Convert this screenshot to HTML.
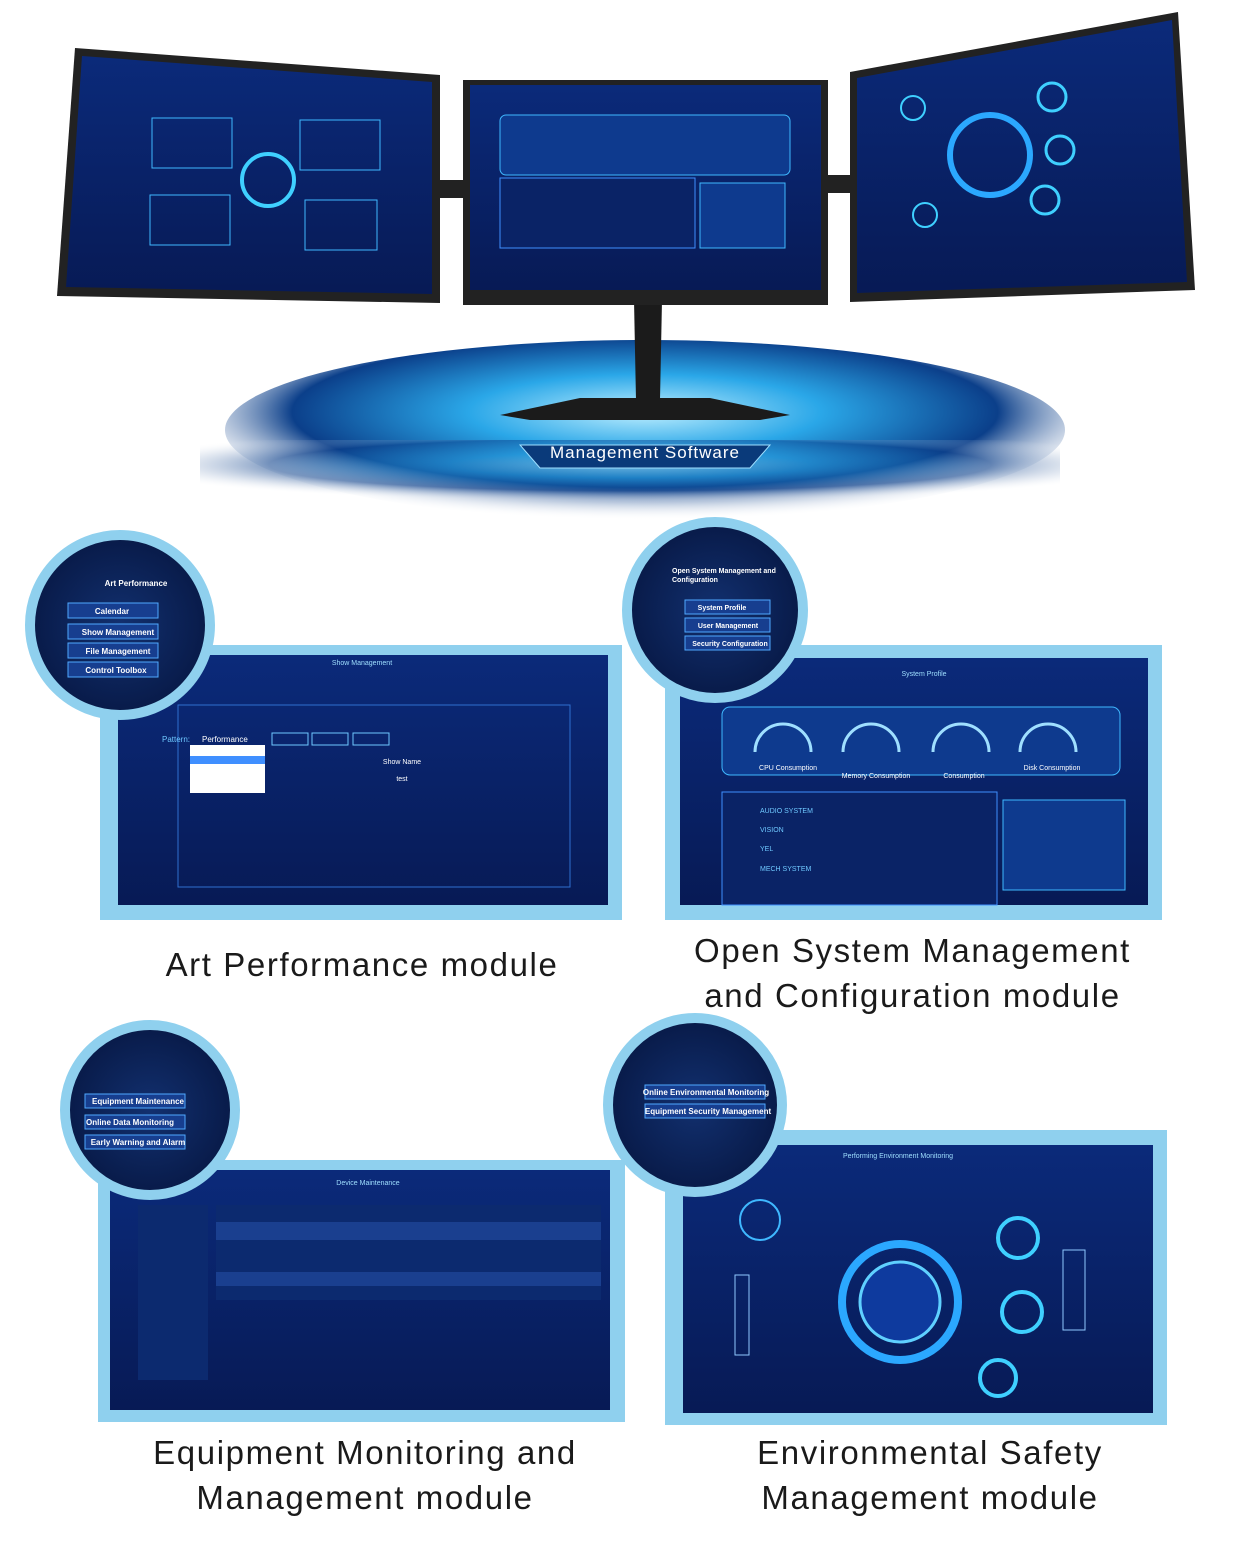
<!DOCTYPE html>
<html><head><meta charset="utf-8"><style>
html,body{margin:0;padding:0;background:#fff}
body{width:1244px;height:1541px;position:relative;overflow:hidden;font-family:"Liberation Sans",sans-serif}
.cap{position:absolute;color:#1a1a1a;font-size:33px;letter-spacing:1.6px;text-align:center;line-height:45px}
</style></head><body>
<svg width="1244" height="1541" style="position:absolute;left:0;top:0">
<defs>
<radialGradient id="glow" cx="50%" cy="40%" r="60%">
<stop offset="0" stop-color="#bfefff"/><stop offset="0.35" stop-color="#2aa7e8"/><stop offset="0.7" stop-color="#0b3f8a"/><stop offset="1" stop-color="#ffffff" stop-opacity="0"/></radialGradient>
<linearGradient id="scr" x1="0" y1="0" x2="0" y2="1"><stop offset="0" stop-color="#0b2a7a"/><stop offset="1" stop-color="#071a55"/></linearGradient>
<radialGradient id="circ" cx="50%" cy="50%" r="50%"><stop offset="0" stop-color="#12306f"/><stop offset="1" stop-color="#081a48"/></radialGradient>
</defs>
<ellipse cx="645" cy="430" rx="420" ry="90" fill="url(#glow)"/>
<rect x="200" y="440" width="860" height="62" fill="url(#glow)" opacity="0.5"/>
<polygon points="520,445 770,445 750,468 540,468" fill="#0a3a7a" stroke="#9fdfff"/>
<polygon points="634,300 662,300 660,400 636,400" fill="#1b1b1b"/>
<polygon points="500,415 580,398 710,398 790,415 760,420 530,420" fill="#1b1b1b"/>
<polygon points="75,48 440,75 440,303 57,296" fill="#222"/>
<polygon points="82,56 432,82 432,294 66,287" fill="url(#scr)"/>
<rect x="440" y="180" width="30" height="18" fill="#222"/>
<rect x="826" y="175" width="26" height="18" fill="#222"/>
<rect x="463" y="80" width="365" height="225" fill="#222"/>
<rect x="470" y="85" width="351" height="205" fill="url(#scr)"/>
<polygon points="850,72 1178,12 1195,290 850,302" fill="#222"/>
<polygon points="857,78 1172,20 1187,282 857,293" fill="url(#scr)"/>
<circle cx="268" cy="180" r="26" fill="none" stroke="#3fd0ff" stroke-width="4"/>
<rect x="152" y="118" width="80" height="50" fill="none" stroke="#3fb8ff"/>
<rect x="300" y="120" width="80" height="50" fill="none" stroke="#3fb8ff"/>
<rect x="150" y="195" width="80" height="50" fill="none" stroke="#3fb8ff"/>
<rect x="305" y="200" width="72" height="50" fill="none" stroke="#3fb8ff"/>
<rect x="500" y="115" width="290" height="60" rx="6" fill="#0e3a8e" stroke="#3fb8ff"/>
<rect x="500" y="178" width="195" height="70" fill="#0a2366" stroke="#3f8fff"/>
<rect x="700" y="183" width="85" height="65" fill="#0e3a8e" stroke="#3fb8ff"/>
<circle cx="990" cy="155" r="40" fill="none" stroke="#2ba8ff" stroke-width="6"/>
<circle cx="1052" cy="97" r="14" fill="none" stroke="#3fd0ff" stroke-width="3"/>
<circle cx="1060" cy="150" r="14" fill="none" stroke="#3fd0ff" stroke-width="3"/>
<circle cx="1045" cy="200" r="14" fill="none" stroke="#3fd0ff" stroke-width="3"/>
<circle cx="913" cy="108" r="12" fill="none" stroke="#3fd0ff" stroke-width="2"/>
<circle cx="925" cy="215" r="12" fill="none" stroke="#3fd0ff" stroke-width="2"/>
<rect x="100" y="645" width="522" height="275" fill="#8fd0ee"/>
<rect x="118" y="655" width="490" height="250" fill="url(#scr)"/>
<rect x="178" y="705" width="392" height="182" fill="none" stroke="#2f6fcf"/>
<rect x="190" y="745" width="75" height="48" fill="#fff"/>
<rect x="190" y="756" width="75" height="8" fill="#3f8fff"/>
<rect x="272" y="733" width="36" height="12" fill="none" stroke="#6fc8ff"/>
<rect x="312" y="733" width="36" height="12" fill="none" stroke="#6fc8ff"/>
<rect x="353" y="733" width="36" height="12" fill="none" stroke="#6fc8ff"/>
<circle cx="120" cy="625" r="90" fill="url(#circ)" stroke="#8fd0ee" stroke-width="10"/>
<rect x="68" y="603" width="90" height="15" fill="#173e8f" stroke="#4fa8ff"/>
<rect x="68" y="624" width="90" height="15" fill="#173e8f" stroke="#4fa8ff"/>
<rect x="68" y="643" width="90" height="15" fill="#173e8f" stroke="#4fa8ff"/>
<rect x="68" y="662" width="90" height="15" fill="#173e8f" stroke="#4fa8ff"/>
<text x="112" y="614" fill="#fff" font-size="8" text-anchor="middle" font-weight="bold">Calendar</text>
<text x="118" y="635" fill="#fff" font-size="8" text-anchor="middle" font-weight="bold">Show Management</text>
<text x="118" y="654" fill="#fff" font-size="8" text-anchor="middle" font-weight="bold">File Management</text>
<text x="116" y="673" fill="#fff" font-size="8" text-anchor="middle" font-weight="bold">Control Toolbox</text>
<text x="136" y="586" fill="#fff" font-size="8" text-anchor="middle" font-weight="bold">Art Performance</text>
<text x="362" y="665" fill="#9fdfff" font-size="7" text-anchor="middle">Show Management</text>
<text x="162" y="742" fill="#6fc8ff" font-size="8">Pattern:</text>
<text x="202" y="742" fill="#fff" font-size="8">Performance</text>
<text x="402" y="764" fill="#fff" font-size="7" text-anchor="middle">Show Name</text>
<text x="402" y="781" fill="#fff" font-size="7" text-anchor="middle">test</text>
<rect x="665" y="645" width="497" height="275" fill="#8fd0ee"/>
<rect x="680" y="658" width="468" height="247" fill="url(#scr)"/>
<rect x="722" y="707" width="398" height="68" rx="8" fill="#0e3a8e" stroke="#3fb8ff"/>
<rect x="722" y="792" width="275" height="113" fill="#0a2366" stroke="#3f8fff"/>
<rect x="1003" y="800" width="122" height="90" fill="#0e3a8e" stroke="#3fb8ff"/>
<path d="M755 752 a28 28 0 0 1 56 0 M843 752 a28 28 0 0 1 56 0 M933 752 a28 28 0 0 1 56 0 M1020 752 a28 28 0 0 1 56 0" fill="none" stroke="#9fdfff" stroke-width="3"/>
<text x="788" y="770" fill="#fff" font-size="7" text-anchor="middle">CPU Consumption</text>
<text x="876" y="778" fill="#fff" font-size="7" text-anchor="middle">Memory Consumption</text>
<text x="964" y="778" fill="#fff" font-size="7" text-anchor="middle">Consumption</text>
<text x="1052" y="770" fill="#fff" font-size="7" text-anchor="middle">Disk Consumption</text>
<text x="760" y="813" fill="#6fc8ff" font-size="7">AUDIO SYSTEM</text>
<text x="760" y="832" fill="#6fc8ff" font-size="7">VISION</text>
<text x="760" y="851" fill="#6fc8ff" font-size="7">YEL</text>
<text x="760" y="871" fill="#6fc8ff" font-size="7">MECH SYSTEM</text>
<text x="924" y="676" fill="#9fdfff" font-size="7" text-anchor="middle">System Profile</text>
<circle cx="715" cy="610" r="88" fill="url(#circ)" stroke="#8fd0ee" stroke-width="10"/>
<rect x="685" y="600" width="85" height="14" fill="#173e8f" stroke="#4fa8ff"/>
<rect x="685" y="618" width="85" height="14" fill="#173e8f" stroke="#4fa8ff"/>
<rect x="685" y="636" width="85" height="14" fill="#173e8f" stroke="#4fa8ff"/>
<text x="722" y="610" fill="#fff" font-size="7" text-anchor="middle" font-weight="bold">System Profile</text>
<text x="728" y="628" fill="#fff" font-size="7" text-anchor="middle" font-weight="bold">User Management</text>
<text x="730" y="646" fill="#fff" font-size="7" text-anchor="middle" font-weight="bold">Security Configuration</text>
<text x="672" y="573" fill="#fff" font-size="7" font-weight="bold">Open System Management and</text>
<text x="672" y="582" fill="#fff" font-size="7" font-weight="bold">Configuration</text>
<rect x="98" y="1160" width="527" height="262" fill="#8fd0ee"/>
<rect x="110" y="1170" width="500" height="240" fill="url(#scr)"/>
<rect x="138" y="1205" width="70" height="175" fill="#0c2a6f"/>
<rect x="216" y="1205" width="385" height="95" fill="#0c2a6f"/>
<rect x="216" y="1222" width="385" height="18" fill="#1a3f8f"/>
<rect x="216" y="1272" width="385" height="14" fill="#1a3f8f"/>
<text x="368" y="1185" fill="#9fdfff" font-size="7" text-anchor="middle">Device Maintenance</text>
<circle cx="150" cy="1110" r="85" fill="url(#circ)" stroke="#8fd0ee" stroke-width="10"/>
<rect x="85" y="1094" width="100" height="14" fill="#173e8f" stroke="#4fa8ff"/>
<rect x="85" y="1115" width="100" height="14" fill="#173e8f" stroke="#4fa8ff"/>
<rect x="85" y="1135" width="100" height="14" fill="#173e8f" stroke="#4fa8ff"/>
<text x="138" y="1104" fill="#fff" font-size="8" text-anchor="middle" font-weight="bold">Equipment Maintenance</text>
<text x="130" y="1125" fill="#fff" font-size="8" text-anchor="middle" font-weight="bold">Online Data Monitoring</text>
<text x="138" y="1145" fill="#fff" font-size="8" text-anchor="middle" font-weight="bold">Early Warning and Alarm</text>
<rect x="665" y="1130" width="502" height="295" fill="#8fd0ee"/>
<rect x="683" y="1145" width="470" height="268" fill="url(#scr)"/>
<circle cx="900" cy="1302" r="58" fill="none" stroke="#2ba8ff" stroke-width="8"/>
<circle cx="900" cy="1302" r="40" fill="#0e3a9e" stroke="#5fd0ff" stroke-width="3"/>
<circle cx="1018" cy="1238" r="20" fill="none" stroke="#3fd0ff" stroke-width="4"/>
<circle cx="1022" cy="1312" r="20" fill="none" stroke="#3fd0ff" stroke-width="4"/>
<circle cx="998" cy="1378" r="18" fill="none" stroke="#3fd0ff" stroke-width="4"/>
<circle cx="760" cy="1220" r="20" fill="none" stroke="#3fb8ff" stroke-width="2"/>
<rect x="735" y="1275" width="14" height="80" fill="none" stroke="#8fc8ff"/>
<rect x="1063" y="1250" width="22" height="80" fill="none" stroke="#8fc8ff"/>
<text x="898" y="1158" fill="#9fdfff" font-size="7" text-anchor="middle">Performing Environment Monitoring</text>
<circle cx="695" cy="1105" r="87" fill="url(#circ)" stroke="#8fd0ee" stroke-width="10"/>
<rect x="645" y="1085" width="120" height="14" fill="#173e8f" stroke="#4fa8ff"/>
<rect x="645" y="1104" width="120" height="14" fill="#173e8f" stroke="#4fa8ff"/>
<text x="706" y="1095" fill="#fff" font-size="8" text-anchor="middle" font-weight="bold">Online Environmental Monitoring</text>
<text x="708" y="1114" fill="#fff" font-size="8" text-anchor="middle" font-weight="bold">Equipment Security Management</text>
</svg>
<div style="position:absolute;left:520px;top:443px;width:250px;text-align:center;color:#fff;font-size:17px;letter-spacing:1px">Management Software</div>
<div class="cap" style="left:112px;top:942px;width:500px">Art Performance module</div>
<div class="cap" style="left:650px;top:928px;width:525px">Open System Management<br>and Configuration module</div>
<div class="cap" style="left:110px;top:1430px;width:510px">Equipment Monitoring and<br>Management module</div>
<div class="cap" style="left:680px;top:1430px;width:500px">Environmental Safety<br>Management module</div>
</body></html>
